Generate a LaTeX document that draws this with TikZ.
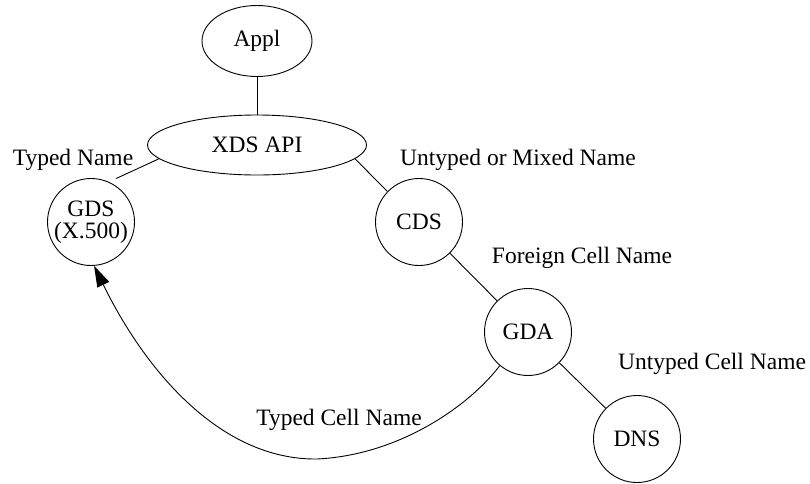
\documentclass[tikz,border=0pt]{standalone}
\usepackage{fontspec}
\setmainfont{Liberation Serif}
\usetikzlibrary{shapes.geometric,arrows.meta}
\begin{document}
\begin{tikzpicture}[x=1pt,y=-1pt,
  every node/.style={font=\fontsize{23.5}{24}\selectfont},
  oval/.style={draw,ellipse,inner sep=0pt,line width=0.9pt},
  circ/.style={draw,circle,inner sep=0pt,minimum size=87pt,line width=0.9pt,align=center},
  lbl/.style={anchor=base,inner sep=0pt},
  conn/.style={line width=0.9pt}]
\useasboundingbox (0,0) rectangle (810,483);
\node[oval,minimum width=110pt,minimum height=71pt] (appl) at (257,41) {Appl};
\node[oval,minimum width=219pt,minimum height=60pt] (xds) at (257,145) {XDS API};
\node[circ] (gds) at (91,222) {GDS\\[-2pt](X.500)};
\node[circ] (cds) at (419,222) {CDS};
\node[circ] (gda) at (528,332) {GDA};
\node[circ] (dns) at (637,439) {DNS};
\node[lbl] (l1) at (73,165) {Typed Name};
\node[lbl] (l2) at (518,165) {Untyped or Mixed Name};
\node[lbl] (l3) at (582,263) {Foreign Cell Name};
\node[lbl] (l4) at (712,369) {Untyped Cell Name};
\node[lbl] (l5) at (339,425) {Typed Cell Name};
\coordinate (low) at (317,459);
\draw[conn] (appl) -- (xds);
\draw[conn,shorten >=8pt] (xds.188) -- (gds.66);
\draw[conn] (xds.-8.6) -- (cds.136);
\draw[conn] (cds) -- (gda);
\draw[conn] (gda) -- (dns);
\draw[conn,-{Triangle[length=21pt,width=13pt]}] (gda.230) .. controls (470,405) and (400,455) .. (low)
  .. controls (220,460) and (145,370) .. (gds.-86);
\end{tikzpicture}
\end{document}
